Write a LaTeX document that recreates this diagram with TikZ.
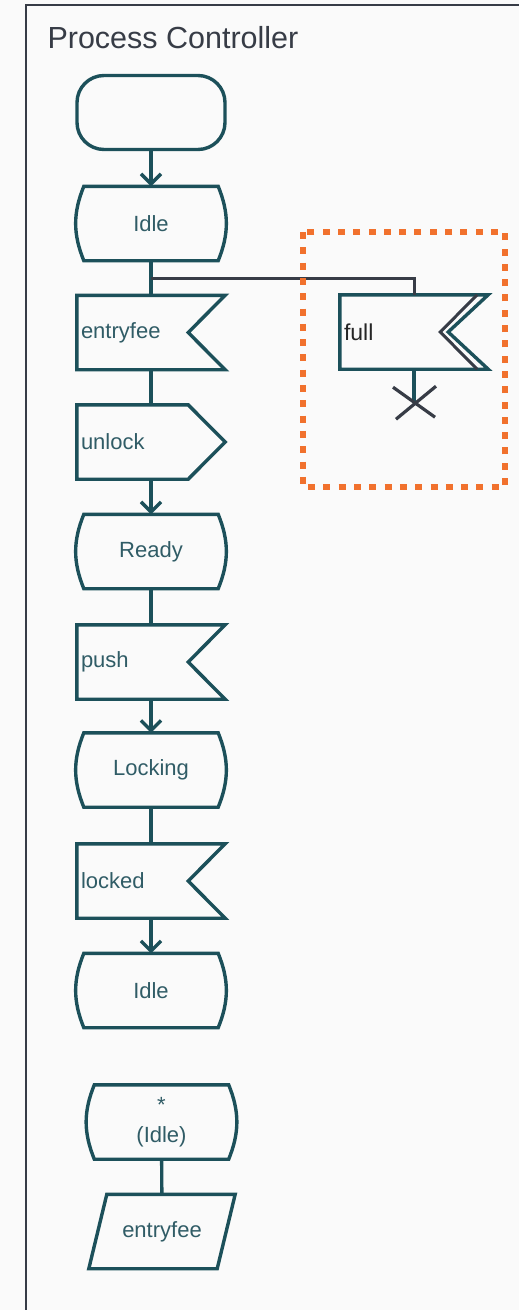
\documentclass[tikz,border=0pt]{standalone}
\usepackage{fontspec}
\setmainfont{Liberation Sans}
\usetikzlibrary{arrows.meta,calc}
\definecolor{sdlteal}{RGB}{28,80,90}
\definecolor{sdltext}{RGB}{48,92,102}
\definecolor{framegrey}{RGB}{55,60,70}
\definecolor{markorange}{RGB}{241,113,45}

\begin{document}
\begin{tikzpicture}[x=1pt,y=-1pt,
  box/.style={minimum width=148pt,minimum height=74pt,inner sep=4pt,text=sdltext,font=\fontsize{22}{30}\selectfont},
  sigbox/.style={box,text width=140pt,align=left},
  statebox/.style={box,minimum width=134pt,align=center},
  outline/.style={draw=sdlteal,line width=3.4pt,line join=miter},
  flow/.style={sdlteal,line width=3.4pt},
  arr/.style={flow,-{Straight Barb[length=10pt,width=20pt]}},
  branch/.style={framegrey,line width=3pt}]
  \fill[white!98!black] (0,0) rectangle (519,1310);
  \useasboundingbox (0,0) rectangle (519,1310);
  \draw[framegrey,line width=2.5pt] (26,1310) -- (26,5) -- (519,5);
  \node[anchor=west,text=framegrey,font=\fontsize{30.5}{36}\selectfont] (title) at (44,38) {Process Controller};

  % main path of the process
  \node[box,draw=sdlteal,line width=3.4pt,rounded corners=27pt] (start) at (151,112.5) {};
  \node[statebox] (idle) at (151,223.5) {Idle};
  \node[sigbox] (entry) at (151,332.5) {entryfee};
  \node[sigbox] (unlock) at (151,442) {unlock};
  \node[statebox] (ready) at (151,551.5) {Ready};
  \node[sigbox] (push) at (151,662) {push};
  \node[statebox] (locking) at (151,770) {Locking};
  \node[sigbox] (locked) at (151,881) {locked};
  \node[statebox] (idlenext) at (151,990.5) {Idle};
  \node[statebox] (anyidle) at (161.5,1122) {*\\(Idle)};
  \node[box,minimum width=128pt] (fee) at (162,1231.5) {entryfee};
  \node[sigbox,text=black!85,font=\fontsize{23}{28}\selectfont] (full) at (414,332) {full};

  % outlines
  \foreach \s in {idle,ready,locking,idlenext,anyidle}
    \draw[outline] (\s.north west) -- (\s.north east) to[out=-68,in=68] (\s.south east)
      -- (\s.south west) to[out=112,in=-112] (\s.north west) -- cycle;
  \foreach \s in {entry,push,locked}
    \draw[outline] (\s.north west) -- (\s.north east) -- ($(\s.east)+(-37,0)$)
      -- (\s.south east) -- (\s.south west) -- cycle;
  \draw[outline] (full.north west) -- (full.north east) -- ($(full.east)+(-40,0)$)
    -- (full.south east) -- (full.south west) -- cycle;
  \draw[framegrey,line width=3pt] ($(full.north east)+(-11,0)$) -- ($(full.east)+(-48,0)$)
    -- ($(full.south east)+(-11,0)$);
  \draw[outline] (unlock.north west) -- ($(unlock.north east)+(-37,0)$) -- (unlock.east)
    -- ($(unlock.south east)+(-37,0)$) -- (unlock.south west) -- cycle;
  \draw[outline] ($(fee.north west)+(9,0)$) -- ($(fee.north east)+(9,0)$)
    -- ($(fee.south east)+(-9,0)$) -- ($(fee.south west)+(-9,0)$) -- cycle;

  % connectors
  \draw[arr] (start) -- (idle);
  \draw[flow] (idle) -- (entry);
  \draw[flow] (entry) -- (unlock);
  \draw[arr] (unlock) -- (ready);
  \draw[flow] (ready) -- (push);
  \draw[arr] (push) -- (locking);
  \draw[flow] (locking) -- (locked);
  \draw[arr] (locked) -- (idlenext);
  \draw[flow] (anyidle) -- (fee);

  % branch to the full signal
  \coordinate (split) at ($(idle.south)!0.5!(entry.north)$);
  \coordinate (stop) at ($(full.south)+(0,34)$);
  \draw[branch] (split) -| (full.north);
  \draw[flow] (full.south) -- (stop);
  \draw[framegrey,line width=3.2pt] ($(stop)+(-21,-16)$) -- ($(stop)+(21,14)$)
    ($(stop)+(22,-17)$) -- ($(stop)+(-18,16)$);
  \draw[markorange,line width=6pt,dash pattern=on 7pt off 8.3pt] (303,232) rectangle (505,487);
\end{tikzpicture}
\end{document}
